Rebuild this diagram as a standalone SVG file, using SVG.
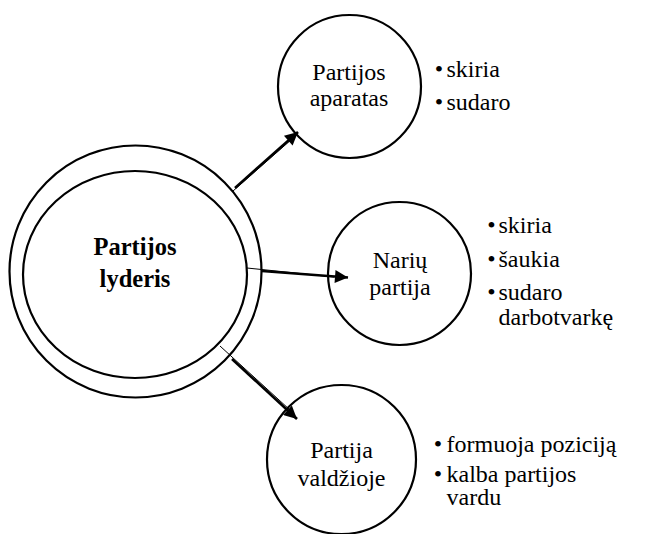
<svg xmlns="http://www.w3.org/2000/svg" width="647" height="534" viewBox="0 0 647 534">
<style>
.c{fill:#fff;stroke:#000;stroke-width:2.2}
text{font-family:'Liberation Serif','Times New Roman',serif;font-size:24px;fill:#000}
.b{font-weight:bold;font-size:24.5px}
.m{text-anchor:middle}
.thick{stroke:#000;stroke-width:2.6;fill:none}
.thin{stroke:#000;stroke-width:1;fill:none}
</style>
<defs>
<marker id="ah" viewBox="0 0 10 10" refX="10" refY="5" markerWidth="16" markerHeight="13" markerUnits="userSpaceOnUse" orient="auto">
<path d="M0,0 L10,5 L0,10 Z" fill="#000"/>
</marker>
</defs>
<rect width="647" height="534" fill="#fff"/>
<g id="leader">
<circle class="c" cx="135.5" cy="271.5" r="126"/>
<ellipse class="c" cx="135" cy="274.5" rx="112" ry="103.5"/>
<text class="b m" x="135" y="255">Partijos</text>
<text class="b m" x="135" y="287">lyderis</text>
</g>
<g id="aparatas">
<circle class="c" cx="349.5" cy="86.5" r="71.5"/>
<text class="m" x="349" y="80">Partijos</text>
<text class="m" x="349" y="106">aparatas</text>
</g>
<g id="aparatas-list">
<text class="m" x="439" y="77">•</text><text x="446.5" y="77">skiria</text>
<text class="m" x="439" y="109.5">•</text><text x="446.5" y="109.5">sudaro</text>
</g>
<g id="nariu">
<circle class="c" cx="399.5" cy="273.5" r="71.5"/>
<text class="m" x="400" y="268">Narių</text>
<text class="m" x="400" y="295">partija</text>
</g>
<g id="nariu-list">
<text class="m" x="491.5" y="233">•</text><text x="498.5" y="233">skiria</text>
<text class="m" x="491.5" y="266.5">•</text><text x="498.5" y="266.5">šaukia</text>
<text class="m" x="491.5" y="300">•</text><text x="498.5" y="300">sudaro</text>
<text x="498.5" y="325">darbotvarkę</text>
</g>
<g id="valdzioje">
<circle class="c" cx="341.5" cy="459.5" r="74.5"/>
<text class="m" x="341.5" y="458">Partija</text>
<text class="m" x="341.5" y="486">valdžioje</text>
</g>
<g id="valdzioje-list">
<text class="m" x="438" y="451.5">•</text><text x="446.5" y="451.5">formuoja poziciją</text>
<text class="m" x="438" y="481.5">•</text><text x="446.5" y="481.5">kalba partijos</text>
<text x="446.5" y="505">vardu</text>
</g>
<g id="connectors">
<line class="thin" x1="233" y1="191" x2="292" y2="139"/>
<line class="thick" x1="235" y1="188" x2="298" y2="132" marker-end="url(#ah)"/>
<line class="thin" x1="247" y1="268" x2="334" y2="277"/>
<line class="thick" x1="262" y1="271" x2="348" y2="277.5" marker-end="url(#ah)"/>
<line class="thin" x1="220" y1="346" x2="290" y2="410"/>
<line class="thick" x1="232" y1="359" x2="297" y2="419" marker-end="url(#ah)"/>
</g>
</svg>
